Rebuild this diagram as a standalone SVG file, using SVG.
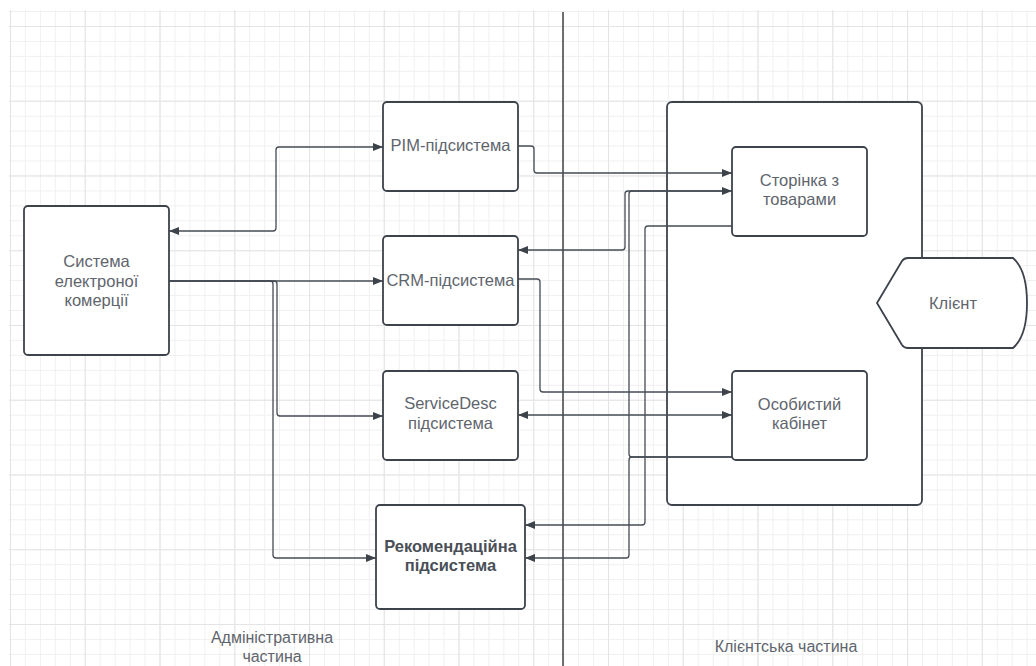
<svg xmlns="http://www.w3.org/2000/svg" width="1036" height="666" viewBox="0 0 1036 666">
<style>
.box{fill:#ffffff;stroke:#3d434b;stroke-width:1.8}
.c{fill:none;stroke:#464c55;stroke-width:1.3}
.t{font-family:"Liberation Sans",Arial,sans-serif;font-size:16.5px;fill:#60656d;text-anchor:middle}
.b{font-weight:bold;fill:#4a4f57}
.lbl{font-family:"Liberation Sans",Arial,sans-serif;font-size:16px;fill:#60656d;text-anchor:middle}
</style>
<defs>
<pattern id="gMinor" width="14.95" height="14.95" patternUnits="userSpaceOnUse" x="10" y="11">
<path d="M0 0.5H14.95M0.5 0V14.95" stroke="#f0f0f0" stroke-width="1" fill="none"/>
</pattern>
<pattern id="gMajor" width="74.75" height="74.75" patternUnits="userSpaceOnUse" x="10" y="26">
<path d="M0 0.5H74.75M0.5 0V74.75" stroke="#e4e4e4" stroke-width="1.2" fill="none"/>
</pattern>
<marker id="arr" viewBox="0 0 10 8" refX="10" refY="4" markerWidth="10" markerHeight="8" markerUnits="userSpaceOnUse" orient="auto-start-reverse">
<path d="M0 0L10 4L0 8Z" fill="#3d434b"/>
</marker>
</defs>
<rect width="1036" height="666" fill="#ffffff"/>
<rect x="9" y="10" width="1027" height="656" fill="url(#gMinor)"/>
<rect x="9" y="10" width="1027" height="656" fill="url(#gMajor)"/>

<line id="divider" x1="563" y1="12" x2="563" y2="666" stroke="#222428" stroke-width="1.3"/>

<g id="client-area">
<rect class="box" x="667" y="102" width="255" height="403" rx="5"/>
</g>

<g id="connectors">
<path class="c" d="M169 231H273Q276 231 276 228V150Q276 147 279 147H383" marker-start="url(#arr)" marker-end="url(#arr)"/>
<path class="c" d="M169 281H383" marker-end="url(#arr)"/>
<path class="c" d="M169 281H274Q277 281 277 284V413Q277 416 280 416H383" marker-end="url(#arr)"/>
<path class="c" d="M169 281H270Q273 281 273 284V555Q273 558 276 558H376" marker-end="url(#arr)"/>
<path class="c" d="M518 146H531Q534 146 534 149V170Q534 173 537 173H732" marker-end="url(#arr)"/>
<path class="c" d="M518 250H622Q625 250 625 247V194Q625 191 628 191H732" marker-start="url(#arr)" marker-end="url(#arr)"/>
<path class="c" d="M732 457H632Q629 457 629 454V194Q629 191 632 191H722"/>
<path class="c" d="M732 457H632Q629 457 629 460V555Q629 558 626 558H525" marker-end="url(#arr)"/>
<path class="c" d="M732 226H648Q645 226 645 229V522Q645 525 642 525H525" marker-end="url(#arr)"/>
<path class="c" d="M518 279H537Q540 279 540 282V389Q540 392 543 392H732" marker-end="url(#arr)"/>
<path class="c" d="M518 415H732" marker-start="url(#arr)" marker-end="url(#arr)"/>
</g>

<g id="ecommerce">
<rect class="box" x="24" y="206" width="145" height="149" rx="4"/>
<text class="t" x="96.5" y="267">Система</text>
<text class="t" x="96.5" y="287">електроної</text>
<text class="t" x="96.5" y="306">комерції</text>
</g>

<g id="pim">
<rect class="box" x="383" y="102" width="135" height="89" rx="4"/>
<text class="t" x="450.5" y="151">PIM-підсистема</text>
</g>

<g id="crm">
<rect class="box" x="383" y="236" width="135" height="89" rx="4"/>
<text class="t" x="450.5" y="286">CRM-підсистема</text>
</g>

<g id="servicedesc">
<rect class="box" x="383" y="371" width="135" height="89" rx="4"/>
<text class="t" x="450.5" y="409">ServiceDesc</text>
<text class="t" x="450.5" y="429">підсистема</text>
</g>

<g id="recommendation">
<rect class="box" x="376" y="505" width="149" height="104" rx="4"/>
<text class="t b" x="450.5" y="552">Рекомендаційна</text>
<text class="t b" x="450.5" y="571">підсистема</text>
</g>

<g id="products-page">
<rect class="box" x="732" y="147" width="135" height="89" rx="4"/>
<text class="t" x="799.5" y="186">Сторінка з</text>
<text class="t" x="799.5" y="205">товарами</text>
</g>

<g id="cabinet">
<rect class="box" x="732" y="371" width="135" height="89" rx="4"/>
<text class="t" x="799.5" y="410">Особистий</text>
<text class="t" x="799.5" y="429">кабінет</text>
</g>

<g id="client">
<path class="box" d="M908 258H1013Q1027 270 1027 303Q1027 336 1013 348H908Q904 348 902 345L877 303L902 261Q904 258 908 258Z"/>
<text class="t" x="953" y="309">Клієнт</text>
</g>

<g id="labels">
<text class="lbl" x="272" y="643">Адміністративна</text>
<text class="lbl" x="272" y="662">частина</text>
<text class="lbl" x="786" y="652">Клієнтська частина</text>
</g>
</svg>
